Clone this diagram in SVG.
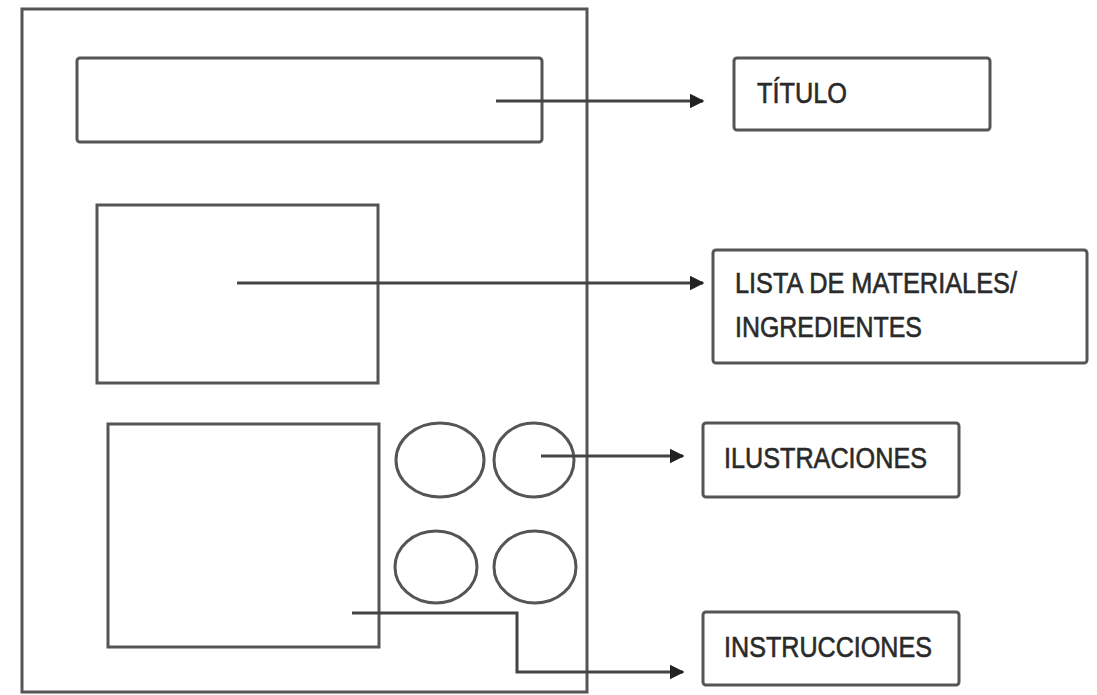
<svg xmlns="http://www.w3.org/2000/svg" width="1097" height="695" viewBox="0 0 1097 695">
<style>
.box{fill:#fff;stroke:#555;stroke-width:3}
.shape{fill:none;stroke:#555;stroke-width:3}
.conn{fill:none;stroke:#444;stroke-width:3}
.lbl{font-family:"Liberation Sans",Arial,sans-serif;font-size:29px;fill:#2a2a2a;stroke:#2a2a2a;stroke-width:0.6}
</style>
<defs>
<marker id="arr" viewBox="0 0 10 10" refX="9" refY="5" markerWidth="5" markerHeight="5" markerUnits="strokeWidth" orient="auto">
<path d="M0,0 L10,5 L0,10 Z" fill="#222"/>
</marker>
</defs>
<rect width="1097" height="695" fill="#fff"/>
<g id="page">
<rect class="shape" x="22" y="9" width="565" height="683"/>
</g>
<g id="title-area"><rect class="shape" x="77" y="58" width="465" height="84" rx="3"/></g>
<g id="list-area"><rect class="shape" x="97" y="205" width="281" height="178"/></g>
<g id="instr-area"><rect class="shape" x="108" y="424" width="271" height="223"/></g>
<g id="ill-1"><ellipse class="shape" cx="440" cy="460" rx="44" ry="37"/></g>
<g id="ill-2"><ellipse class="shape" cx="534" cy="460" rx="40" ry="37"/></g>
<g id="ill-3"><ellipse class="shape" cx="436" cy="567" rx="41" ry="36"/></g>
<g id="ill-4"><ellipse class="shape" cx="535" cy="567" rx="41" ry="36"/></g>
<g id="connectors">
<path class="conn" d="M496,101 H703" marker-end="url(#arr)"/>
<path class="conn" d="M237,283 H703" marker-end="url(#arr)"/>
<path class="conn" d="M541,456 H683" marker-end="url(#arr)"/>
<path class="conn" d="M352,613 H517 V672 H683" marker-end="url(#arr)"/>
</g>
<g id="titulo">
<rect class="box" x="734" y="58" width="256" height="72" rx="3"/>
<text class="lbl" x="757" y="103" textLength="90" lengthAdjust="spacingAndGlyphs">TÍTULO</text>
</g>
<g id="lista">
<rect class="box" x="713" y="250" width="374" height="113" rx="3"/>
<text class="lbl" x="735" y="293" textLength="282" lengthAdjust="spacingAndGlyphs">LISTA DE MATERIALES/</text>
<text class="lbl" x="735" y="337" textLength="187" lengthAdjust="spacingAndGlyphs">INGREDIENTES</text>
</g>
<g id="ilustraciones">
<rect class="box" x="703" y="423" width="256" height="74" rx="3"/>
<text class="lbl" x="724" y="468" textLength="203" lengthAdjust="spacingAndGlyphs">ILUSTRACIONES</text>
</g>
<g id="instrucciones">
<rect class="box" x="703" y="612" width="256" height="73" rx="3"/>
<text class="lbl" x="724" y="657" textLength="208" lengthAdjust="spacingAndGlyphs">INSTRUCCIONES</text>
</g>
</svg>
